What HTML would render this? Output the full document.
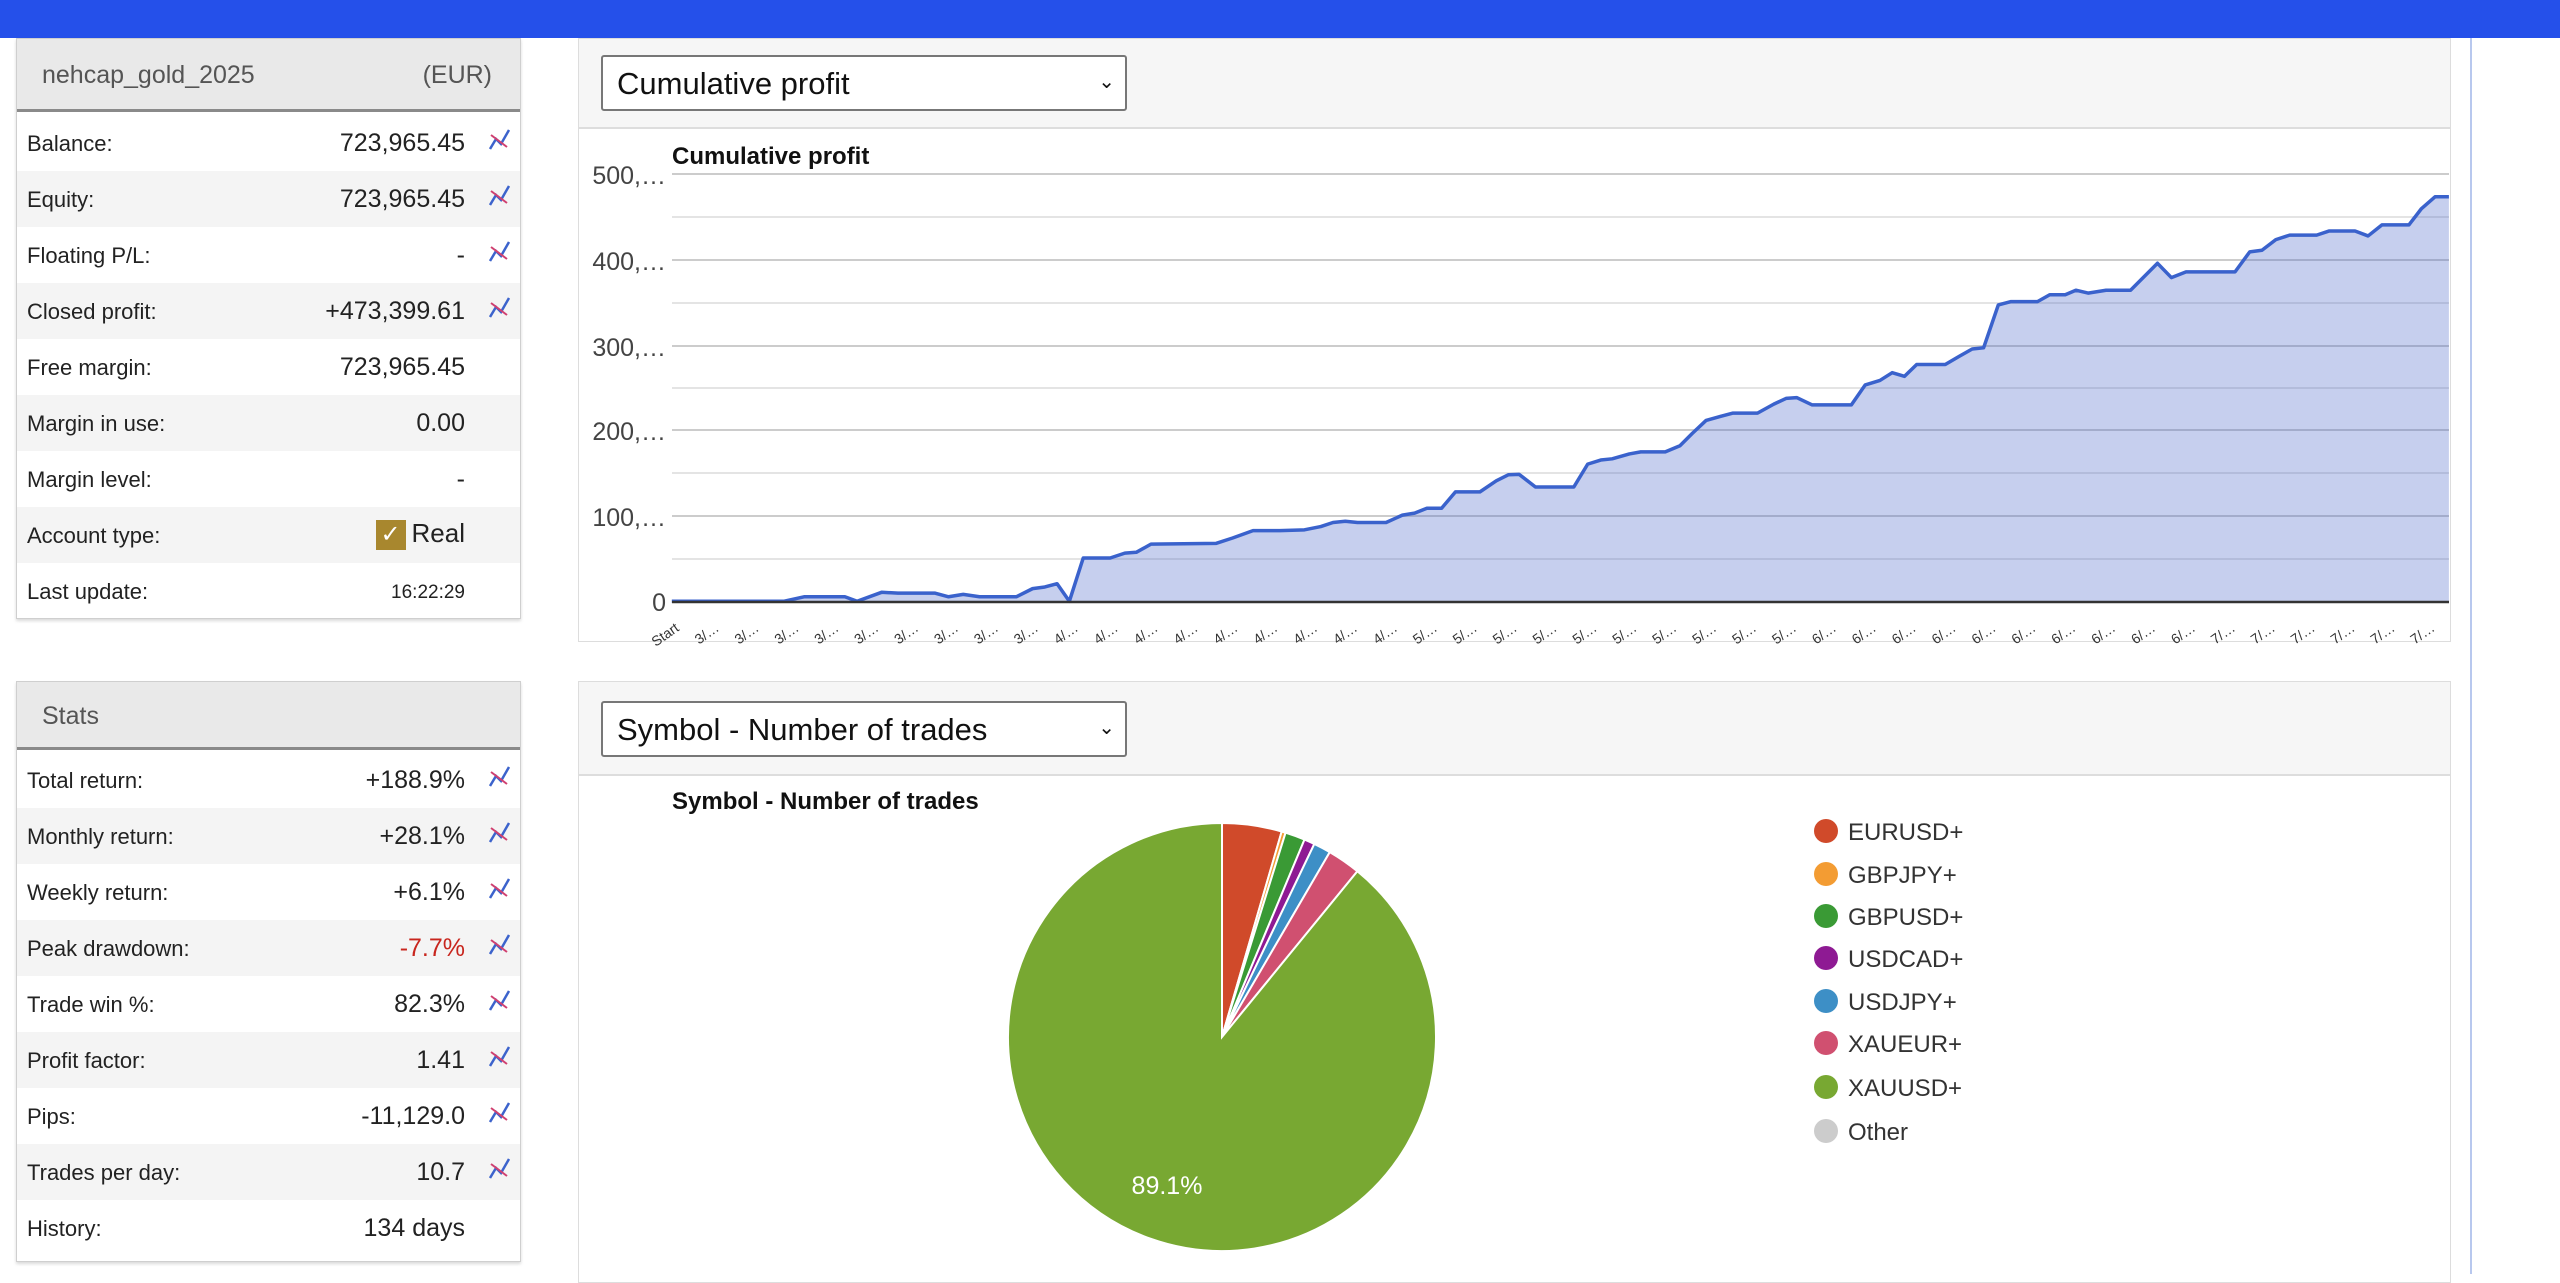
<!DOCTYPE html>
<html><head><meta charset="utf-8"><style>
body{margin:0;width:2560px;height:1274px;background:#fff;position:relative;overflow:hidden;font-family:"Liberation Sans",Arial,sans-serif;}
.top{position:absolute;left:0;top:0;width:2560px;height:38px;background:#2550ea;}
.panel{position:absolute;border:1px solid #cfcfcf;box-shadow:0 2px 3px rgba(0,0,0,.15);background:#fff;}
.ph{position:absolute;left:0;right:0;top:0;background:#e9e9e9;border-bottom:3px solid #8a8a8a;color:#555;font-size:25px;}
.row{position:absolute;left:0;right:0;height:56px;font-size:22px;color:#222;}
.row.g{background:#f4f4f4;}
.row .l{position:absolute;left:10px;top:16px;}
.row .v{position:absolute;right:55px;top:14px;text-align:right;font-size:25px;}
.ic{position:absolute;right:7px;top:12px;}
.cp{position:absolute;border:1px solid #ddd;background:#fff;}
.ch{position:absolute;left:0;right:0;top:0;background:#f6f6f6;border-bottom:2px solid #ddd;}
.dd{position:absolute;left:22px;width:526px;height:56px;border:2px solid #777;border-radius:3px;background:#fff;font-size:31px;color:#111;box-sizing:border-box;padding:9px 0 0 14px;}
.dd span{position:absolute;right:10px;top:12px;font-size:20px;}
</style></head><body>
<div class="top"></div>
<svg width="0" height="0" style="position:absolute"><defs>
<g id="ico"><path d="M3 22 L9 12 L14 17 L22 3" stroke="#3c63cc" stroke-width="2.5" fill="none"/><path d="M4 8 L20 20" stroke="#d04070" stroke-width="2" fill="none"/></g></defs></svg>

<div class="panel" style="left:16px;top:38px;width:503px;height:579px;">
 <div class="ph" style="height:70px;"><span style="position:absolute;left:25px;top:22px;">nehcap_gold_2025</span><span style="position:absolute;right:28px;top:22px;">(EUR)</span></div>
 <div class="row" style="top:76px"><span class="l">Balance:</span><span class="v">723,965.45</span><svg class="ic" width="26" height="26"><use href="#ico"/></svg></div>
 <div class="row g" style="top:132px"><span class="l">Equity:</span><span class="v">723,965.45</span><svg class="ic" width="26" height="26"><use href="#ico"/></svg></div>
 <div class="row" style="top:188px"><span class="l">Floating P/L:</span><span class="v">-</span><svg class="ic" width="26" height="26"><use href="#ico"/></svg></div>
 <div class="row g" style="top:244px"><span class="l">Closed profit:</span><span class="v">+473,399.61</span><svg class="ic" width="26" height="26"><use href="#ico"/></svg></div>
 <div class="row" style="top:300px"><span class="l">Free margin:</span><span class="v">723,965.45</span></div>
 <div class="row g" style="top:356px"><span class="l">Margin in use:</span><span class="v">0.00</span></div>
 <div class="row" style="top:412px"><span class="l">Margin level:</span><span class="v">-</span></div>
 <div class="row g" style="top:468px"><span class="l">Account type:</span><span class="v" style="top:11px;font-size:26px"><span style="display:inline-block;width:30px;height:30px;background:#a8872e;color:#fff;text-align:center;line-height:30px;vertical-align:middle;margin-right:6px;font-size:24px">✓</span>Real</span></div>
 <div class="row" style="top:524px"><span class="l">Last update:</span><span class="v" style="font-size:19px;top:19px">16:22:29</span></div>
</div>

<div class="panel" style="left:16px;top:681px;width:503px;height:579px;">
 <div class="ph" style="height:65px;"><span style="position:absolute;left:25px;top:20px;">Stats</span></div>
 <div class="row" style="top:70px"><span class="l">Total return:</span><span class="v">+188.9%</span><svg class="ic" width="26" height="26"><use href="#ico"/></svg></div>
 <div class="row g" style="top:126px"><span class="l">Monthly return:</span><span class="v">+28.1%</span><svg class="ic" width="26" height="26"><use href="#ico"/></svg></div>
 <div class="row" style="top:182px"><span class="l">Weekly return:</span><span class="v">+6.1%</span><svg class="ic" width="26" height="26"><use href="#ico"/></svg></div>
 <div class="row g" style="top:238px"><span class="l">Peak drawdown:</span><span class="v" style="color:#c8261e">-7.7%</span><svg class="ic" width="26" height="26"><use href="#ico"/></svg></div>
 <div class="row" style="top:294px"><span class="l">Trade win %:</span><span class="v">82.3%</span><svg class="ic" width="26" height="26"><use href="#ico"/></svg></div>
 <div class="row g" style="top:350px"><span class="l">Profit factor:</span><span class="v">1.41</span><svg class="ic" width="26" height="26"><use href="#ico"/></svg></div>
 <div class="row" style="top:406px"><span class="l">Pips:</span><span class="v">-11,129.0</span><svg class="ic" width="26" height="26"><use href="#ico"/></svg></div>
 <div class="row g" style="top:462px"><span class="l">Trades per day:</span><span class="v">10.7</span><svg class="ic" width="26" height="26"><use href="#ico"/></svg></div>
 <div class="row" style="top:518px"><span class="l">History:</span><span class="v">134 days</span></div>
</div>

<div class="cp" style="left:578px;top:38px;width:1871px;height:602px;">
 <div class="ch" style="height:88px;"></div>
 <div class="dd" style="top:16px">Cumulative profit<span>&#8964;</span></div>
</div>
<div class="cp" style="left:578px;top:681px;width:1871px;height:600px;">
 <div class="ch" style="height:92px;"></div>
 <div class="dd" style="top:19px">Symbol - Number of trades<span>&#8964;</span></div>
</div>
<div style="position:absolute;left:2470px;top:38px;width:2px;height:1236px;background:#b8c8ee"></div>

<svg width="2560" height="1274" style="position:absolute;left:0;top:0" font-family="Liberation Sans,Arial,sans-serif">
 <text x="672" y="164" font-size="24" font-weight="bold" fill="#111">Cumulative profit</text>
 <g stroke="#e4e4e4" stroke-width="2">
  <line x1="672" x2="2449" y1="217" y2="217"/><line x1="672" x2="2449" y1="303" y2="303"/><line x1="672" x2="2449" y1="388" y2="388"/><line x1="672" x2="2449" y1="473" y2="473"/><line x1="672" x2="2449" y1="559" y2="559"/>
 </g>
 <g stroke="#cccccc" stroke-width="2">
  <line x1="672" x2="2449" y1="174" y2="174"/><line x1="672" x2="2449" y1="260" y2="260"/><line x1="672" x2="2449" y1="346" y2="346"/><line x1="672" x2="2449" y1="430" y2="430"/><line x1="672" x2="2449" y1="516" y2="516"/>
 </g>
 <g font-size="25" fill="#444" text-anchor="end">
  <text x="666" y="184">500,…</text><text x="666" y="270">400,…</text><text x="666" y="356">300,…</text><text x="666" y="440">200,…</text><text x="666" y="526">100,…</text><text x="666" y="611">0</text>
 </g>
 <g transform="scale(0.8163,0.4082)">
  <path vector-effect="non-scaling-stroke" fill="rgba(70,100,200,0.31)" stroke="none" d="M823 1473 L960 1473 L985 1462 L1035 1462 L1050 1473 L1080 1451 L1100 1453 L1145 1453 L1162 1462 L1180 1456 L1200 1462 L1245 1462 L1265 1442 L1280 1438 L1295 1430 L1310 1473 L1327 1367 L1360 1367 L1378 1355 L1392 1353 L1410 1333 L1490 1331 L1510 1318 L1535 1300 L1568 1300 L1598 1298 L1618 1290 L1633 1280 L1648 1277 L1663 1280 L1698 1280 L1718 1262 L1733 1257 L1748 1245 L1766 1245 L1783 1205 L1813 1205 L1833 1178 L1848 1163 L1861 1162 L1881 1193 L1928 1193 L1945 1137 L1961 1127 L1975 1124 L1996 1112 L2010 1107 L2040 1107 L2058 1092 L2073 1062 L2090 1030 L2108 1020 L2123 1012 L2153 1012 L2173 990 L2188 976 L2201 974 L2220 992 L2268 992 L2285 943 L2303 932 L2318 913 L2333 922 L2348 893 L2383 893 L2400 873 L2416 855 L2430 852 L2448 747 L2463 739 L2496 739 L2511 722 L2530 722 L2543 711 L2558 718 L2580 711 L2610 711 L2643 645 L2660 680 L2678 666 L2738 666 L2756 617 L2771 613 L2788 587 L2805 576 L2838 576 L2853 566 L2885 566 L2901 578 L2918 551 L2951 551 L2966 512 L2983 482 L3000 482 L3000 1473 Z"/>
  <path vector-effect="non-scaling-stroke" fill="none" stroke="#3a62cc" stroke-width="3.5" stroke-linejoin="round" d="M823 1473 L960 1473 L985 1462 L1035 1462 L1050 1473 L1080 1451 L1100 1453 L1145 1453 L1162 1462 L1180 1456 L1200 1462 L1245 1462 L1265 1442 L1280 1438 L1295 1430 L1310 1473 L1327 1367 L1360 1367 L1378 1355 L1392 1353 L1410 1333 L1490 1331 L1510 1318 L1535 1300 L1568 1300 L1598 1298 L1618 1290 L1633 1280 L1648 1277 L1663 1280 L1698 1280 L1718 1262 L1733 1257 L1748 1245 L1766 1245 L1783 1205 L1813 1205 L1833 1178 L1848 1163 L1861 1162 L1881 1193 L1928 1193 L1945 1137 L1961 1127 L1975 1124 L1996 1112 L2010 1107 L2040 1107 L2058 1092 L2073 1062 L2090 1030 L2108 1020 L2123 1012 L2153 1012 L2173 990 L2188 976 L2201 974 L2220 992 L2268 992 L2285 943 L2303 932 L2318 913 L2333 922 L2348 893 L2383 893 L2400 873 L2416 855 L2430 852 L2448 747 L2463 739 L2496 739 L2511 722 L2530 722 L2543 711 L2558 718 L2580 711 L2610 711 L2643 645 L2660 680 L2678 666 L2738 666 L2756 617 L2771 613 L2788 587 L2805 576 L2838 576 L2853 566 L2885 566 L2901 578 L2918 551 L2951 551 L2966 512 L2983 482 L3000 482"/>
 </g>
 <line x1="672" x2="2449" y1="602" y2="602" stroke="#333" stroke-width="2.5"/>
 <g font-size="14" fill="#333" id="xl"></g>

 <text x="672" y="809" font-size="24" font-weight="bold" fill="#111">Symbol - Number of trades</text>
 <g id="pies" transform="translate(1222,1037)"></g>
 <text x="1167" y="1194" font-size="25" fill="#fff" text-anchor="middle">89.1%</text>
 <g font-size="24" fill="#333">
  <circle cx="1826" cy="831" r="12" fill="#d04a2a"/><text x="1848" y="840">EURUSD+</text>
  <circle cx="1826" cy="874" r="12" fill="#f39c33"/><text x="1848" y="883">GBPJPY+</text>
  <circle cx="1826" cy="916" r="12" fill="#3a9a35"/><text x="1848" y="925">GBPUSD+</text>
  <circle cx="1826" cy="958" r="12" fill="#8e1a93"/><text x="1848" y="967">USDCAD+</text>
  <circle cx="1826" cy="1001" r="12" fill="#3d8fc6"/><text x="1848" y="1010">USDJPY+</text>
  <circle cx="1826" cy="1043" r="12" fill="#d05070"/><text x="1848" y="1052">XAUEUR+</text>
  <circle cx="1826" cy="1087" r="12" fill="#78a832"/><text x="1848" y="1096">XAUUSD+</text>
  <circle cx="1826" cy="1131" r="12" fill="#cccccc"/><text x="1848" y="1140">Other</text>
 </g>
</svg>
<script>
(function(){
 var ns="http://www.w3.org/2000/svg";
 var g=document.getElementById("xl");
 function t(x,s){var e=document.createElementNS(ns,"text");e.setAttribute("x",x);e.setAttribute("y",630);e.setAttribute("text-anchor","end");e.setAttribute("transform","rotate(-35 "+x+" 630)");e.textContent=s;g.appendChild(e);}
 t(680,"Start");
 var m=[3,3,3,3,3,3,3,3,3,4,4,4,4,4,4,4,4,4,5,5,5,5,5,5,5,5,5,5,6,6,6,6,6,6,6,6,6,6,7,7,7,7,7,7];
 for(var i=0;i<m.length;i++)t(720+i*39.9,m[i]+"/…");
 var p=document.getElementById("pies");var r=214;
 var sl=[[4.5,"#d04a2a"],[0.3,"#f39c33"],[1.5,"#3a9a35"],[0.8,"#8e1a93"],[1.3,"#3d8fc6"],[2.5,"#d05070"],[89.1,"#78a832"]];
 var a=0;
 sl.forEach(function(s){var a2=a+s[0]/100*2*Math.PI;
  var x1=r*Math.sin(a),y1=-r*Math.cos(a),x2=r*Math.sin(a2),y2=-r*Math.cos(a2);
  var e=document.createElementNS(ns,"path");
  e.setAttribute("d","M0 0 L"+x1+" "+y1+" A"+r+" "+r+" 0 "+((a2-a)>Math.PI?1:0)+" 1 "+x2+" "+y2+" Z");
  e.setAttribute("fill",s[1]);e.setAttribute("stroke","#fff");e.setAttribute("stroke-width","2");p.appendChild(e);a=a2;});
})();
</script>
</body></html>
